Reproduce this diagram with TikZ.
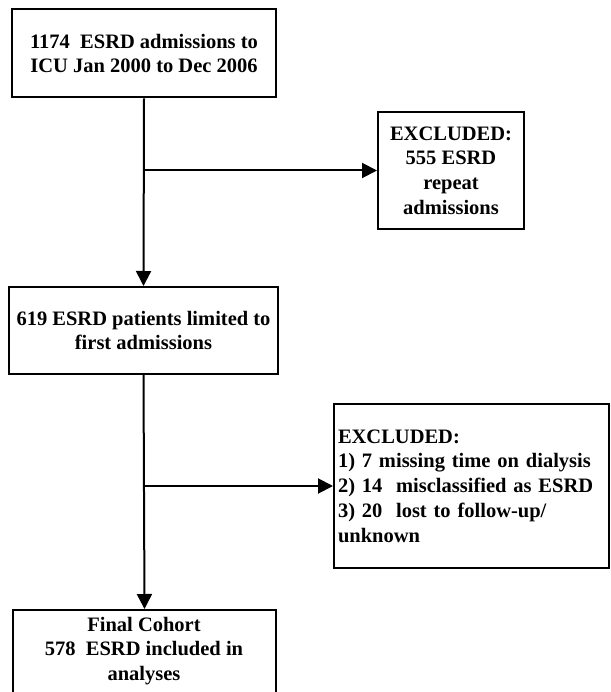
\documentclass[tikz,border=0pt]{standalone}
\usepackage{fontspec}
\setmainfont{Liberation Serif}
\usetikzlibrary{arrows.meta}

\tikzset{
  box/.style={draw,line width=2pt,inner sep=0pt},
  txt/.style={font=\bfseries\fontsize{20.5}{24.75}\selectfont,align=center,inner sep=0pt},
  arr/.style={line width=2pt,-{Triangle[length=15pt,width=15pt]}}
}

\begin{document}
\begin{tikzpicture}[x=1pt,y=-1pt]
  \useasboundingbox (0,0) rectangle (610,692);
  % main column
  \node[box,txt,minimum width=264pt,minimum height=88pt] (adm) at (144,53.5)
    {1174~~ESRD admissions to\\ICU Jan 2000 to Dec 2006};
  \node[box,txt,minimum width=269pt,minimum height=87pt] (first) at (143.5,330.5)
    {619 ESRD patients limited to\\first admissions};
  \node[box,minimum width=263pt,minimum height=130pt,anchor=north] (final) at (144.5,609) {};
  \node[txt] (finaltxt) at (144,651) {Final Cohort\\578~~ESRD included in\\analyses};
  % exclusions
  \node[box,txt,minimum width=146pt,minimum height=117pt] (ex1) at (451,170.5)
    {EXCLUDED:\\555 ESRD\\repeat\\admissions};
  \node[box,txt,align=left,text width=267pt,inner xsep=4pt,minimum height=164pt] (ex2) at (471.5,486)
    {EXCLUDED:\\1) 7 missing time on dialysis\\2) 14~~misclassified as ESRD\\3) 20~~lost to follow-up/\\unknown};
  % connectors
  \draw[arr] (adm.south) -- (first.north);
  \draw[arr] (adm.south |- ex1.west) -- (ex1.west);
  \draw[arr] (first.south) -- (final.north);
  \draw[arr] (first.south |- ex2.west) -- (ex2.west);
\end{tikzpicture}
\end{document}
